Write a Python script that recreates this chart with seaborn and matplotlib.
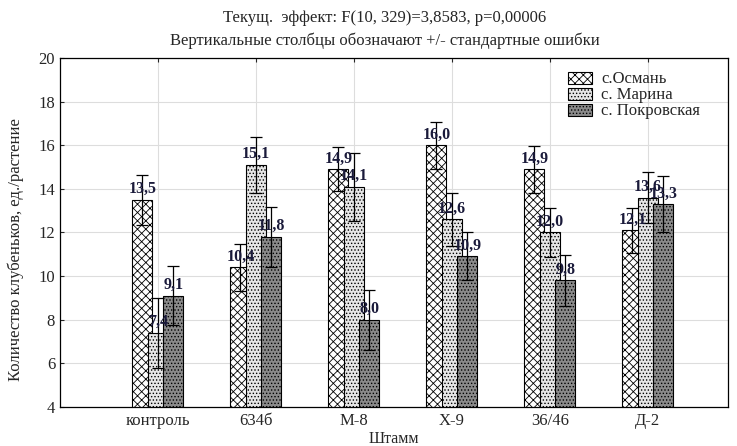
import pandas as pd
import numpy as np
import matplotlib
matplotlib.use('Agg')
import matplotlib.pyplot as plt
import seaborn as sns

sns.set_style('white')
plt.rcParams['font.family'] = ['Liberation Serif', 'DejaVu Serif']
plt.rcParams['hatch.linewidth'] = 0.6

# --- data ---
strains = ['контроль', '634б', 'М-8', 'Х-9', '36/46', 'Д-2']
sites = ['с.Османь', 'с. Марина', 'с. Покровская']
osman = [13.5, 10.4, 14.9, 16.0, 14.9, 12.1]
marina = [7.4, 15.1, 14.1, 12.6, 12.0, 13.6]
pokrovskaya = [9.1, 11.8, 8.0, 10.9, 9.8, 13.3]
se_osman = [1.15, 1.07, 1.0, 1.07, 1.07, 1.03]
se_marina = [1.6, 1.3, 1.55, 1.2, 1.13, 1.18]
se_pokrovskaya = [1.35, 1.38, 1.37, 1.1, 1.15, 1.28]

means = [osman, marina, pokrovskaya]
errors = [se_osman, se_marina, se_pokrovskaya]

df = pd.DataFrame({
    'strain': strains * 3,
    'site': np.repeat(sites, len(strains)),
    'value': osman + marina + pokrovskaya,
})

fig = plt.figure(figsize=(7.37, 4.46), dpi=100)
ax = fig.add_axes([0.0814, 0.0874, 0.9066, 0.7826])

sns.barplot(data=df, x='strain', y='value', hue='site', hue_order=sites,
            order=strains, errorbar=None, legend=False, ax=ax)
bar_containers = list(ax.containers)

# overlapping bars like in the Statistica output
bar_w = 0.204
offsets = [-0.158, 0.0, 0.158]
styles = [
    dict(facecolor='white', hatch='xxxx'),
    dict(facecolor='#e6e6e6', hatch='.....'),
    dict(facecolor='#8a8a8a', hatch='.....'),
]
x = np.arange(len(strains))
for k, cont in enumerate(bar_containers):
    for i, p in enumerate(cont.patches):
        p.set_width(bar_w)
        p.set_x(x[i] + offsets[k] - bar_w / 2)
        p.set_facecolor(styles[k]['facecolor'])
        p.set_hatch(styles[k]['hatch'])
        p.set_edgecolor('black')
        p.set_linewidth(0.8)
    ax.errorbar(x + offsets[k], means[k], yerr=errors[k], fmt='none',
                ecolor='black', elinewidth=0.9, capsize=4, capthick=0.9, zorder=5)
    for i, v in enumerate(means[k]):
        ax.text(x[i] + offsets[k], v + 0.12, f'{v:.1f}'.replace('.', ','),
                ha='center', va='bottom', fontsize=11.5, fontweight='bold',
                color='#1a1a3a', zorder=6)

ax.legend(bar_containers, sites, loc='upper left', bbox_to_anchor=(0.743, 0.995),
          frameon=False, fontsize=12, handlelength=1.45, handleheight=0.72,
          labelspacing=0.0, handletextpad=0.55, borderpad=0.2)

ax.set_xlim(-1, 5.82)
ax.set_ylim(4, 20)
ax.set_yticks(range(4, 21, 2))
ax.grid(True, color='#dddddd', linewidth=0.8)
ax.set_axisbelow(True)
for s in ax.spines.values():
    s.set_color('black')
    s.set_linewidth(0.9)
ax.tick_params(axis='both', direction='in', length=3, labelsize=12, top=True, left=True, bottom=False)
ax.tick_params(axis='x', pad=4)

ax.set_xlabel('Штамм', fontsize=11.5)
ax.xaxis.set_label_coords(0.5, -0.068)
ax.set_ylabel('Количество клубеньков, ед./растение', fontsize=12)
ax.yaxis.set_label_coords(-0.054, 0.45)
fig.text(0.522, 0.95, 'Текущ.  эффект: F(10, 329)=3,8583, p=0,00006', ha='center', fontsize=12)
fig.text(0.522, 0.90, 'Вертикальные столбцы обозначают +/- стандартные ошибки', ha='center', fontsize=12)

plt.savefig('out.png', dpi=100)
